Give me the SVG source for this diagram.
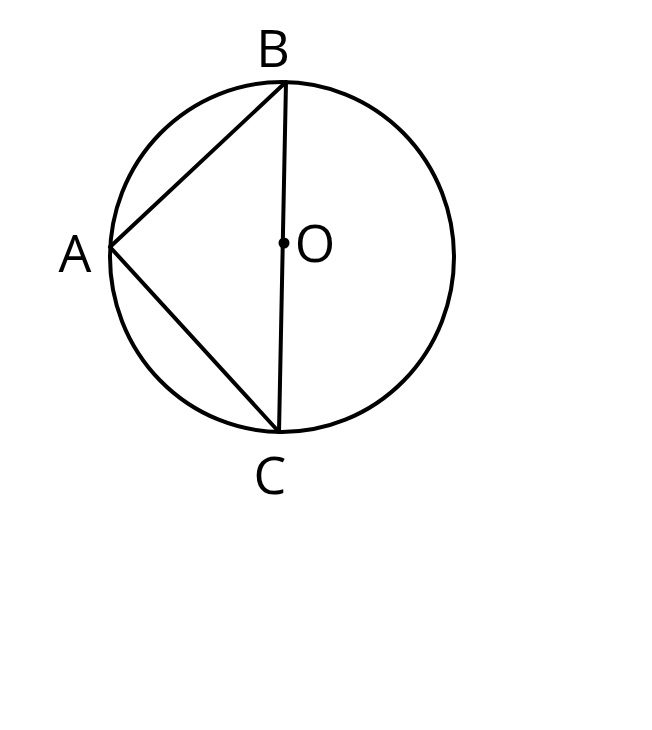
<svg xmlns="http://www.w3.org/2000/svg" width="652" height="730" viewBox="0 0 652 730">
<style>
.ln{stroke:#000;stroke-width:4;fill:none;stroke-linecap:round}
.lb{font-family:"Open Sans","Noto Sans",sans-serif;font-size:52px;fill:#000;text-anchor:middle}
</style>
<rect width="652" height="730" fill="#fff"/>
<g id="circle"><ellipse class="ln" cx="282" cy="257" rx="172" ry="175"/></g>
<g id="connectors">
<line class="ln" x1="286" y1="82" x2="279" y2="432"/>
<line class="ln" x1="110" y1="247" x2="286" y2="82"/>
<line class="ln" x1="110" y1="247" x2="279" y2="432"/>
</g>
<g id="O"><circle cx="284" cy="243" r="5.5" fill="#000"/><text class="lb" x="315" y="262">O</text></g>
<g id="A"><text class="lb" x="75" y="272">A</text></g>
<g id="B"><text class="lb" x="273" y="67">B</text></g>
<g id="C"><text class="lb" x="270" y="494">C</text></g>
</svg>
